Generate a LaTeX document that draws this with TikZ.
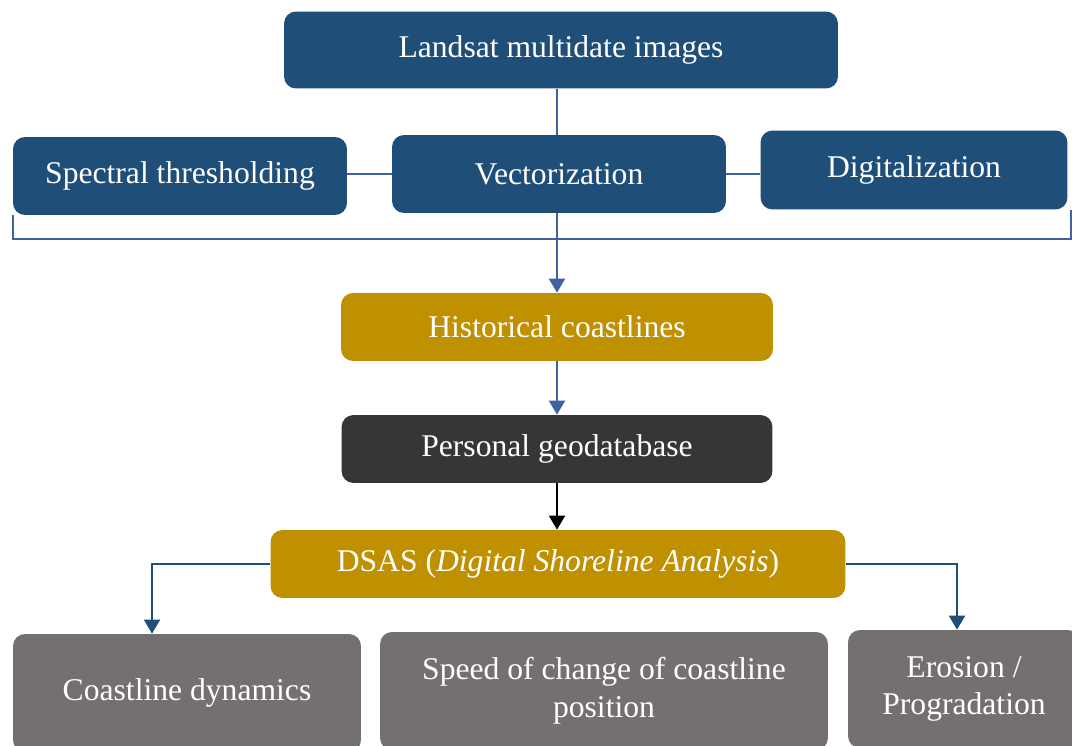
\documentclass[tikz,border=0pt]{standalone}
\usepackage{fontspec}
\setmainfont{Liberation Serif}
\usepackage{xcolor}
\usetikzlibrary{arrows.meta}
\usetikzlibrary{positioning}

\definecolor{navy}{HTML}{1F4E79}
\definecolor{gold}{HTML}{BF9000}
\definecolor{darkbox}{HTML}{363636}
\definecolor{greybox}{HTML}{757070}
\definecolor{linkblue}{HTML}{3F62A4}

\begin{document}
\begin{tikzpicture}[
    x=0.02cm, y=-0.02cm,
    every node/.style={rectangle, rounded corners=0.24cm, text=white,
      font=\fontsize{18}{21.5}\selectfont, inner sep=0pt, align=center},
    navybox/.style={fill=navy},
    goldbox/.style={fill=gold},
    darkbox/.style={fill=darkbox},
    greybox/.style={fill=greybox},
    link/.style={draw=linkblue, line width=1.1pt},
    arr/.style={-{Triangle[length=0.28cm, width=0.32cm]}},
  ]

  \useasboundingbox (0,0) rectangle (1072,746);
  \clip (0,0) rectangle (1072,746);

  \node[navybox, minimum width=11.08cm, minimum height=1.54cm] (landsat) at (561, 50)  {Landsat multidate images};
  \node[navybox, minimum width=6.68cm, minimum height=1.56cm]  (spectral) at (180, 176) {Spectral thresholding};
  \node[navybox, minimum width=6.68cm, minimum height=1.56cm]  (vector) at (559, 174)  {Vectorization};
  \node[navybox, minimum width=6.14cm, minimum height=1.58cm]  (digit) at (914, 170)   {Digitalization};

  \node[goldbox, minimum width=8.64cm, minimum height=1.36cm]  (hist) at (557, 327)    {Historical coastlines};
  \node[darkbox, minimum width=8.62cm, minimum height=1.36cm]  (geodb) at (557, 449)   {Personal geodatabase};
  \node[goldbox, minimum width=11.5cm, minimum height=1.36cm]  (dsas) at (558, 564)    {DSAS (\textit{Digital Shoreline Analysis})};

  \node[greybox, minimum width=6.96cm, minimum height=2.36cm]  (dyn) at (187, 693)     {Coastline dynamics};
  \node[greybox, minimum width=8.96cm, minimum height=2.36cm]  (speed) at (604, 691)   {Speed of change of coastline\\position};
  \node[greybox, minimum width=4.64cm, minimum height=2.36cm]  (erosion) at (964, 689) {Erosion /\\Progradation};

  % upper part
  \draw[link] (landsat.south -| hist.north) -- (hist.north |- vector.north);
  \draw[link] (spectral.east |- vector.west) -- (vector.west);
  \draw[link] (vector.east) -- (digit.west |- vector.east);
  \draw[link] (spectral.south west) -- ++(0,24) -| ([xshift=0.06cm]digit.south east);
  \draw[link, arr] (hist.north |- vector.south) -- (hist.north);

  % lower part
  \draw[link, arr] (hist.south) -- (geodb.north);
  \draw[black, line width=1.1pt, arr] (geodb.south) -- (geodb.south |- dsas.north);
  \draw[navy, line width=1.1pt, arr] (dsas.west) -| ([xshift=-0.7cm]dyn.north);
  \draw[navy, line width=1.1pt, arr] (dsas.east) -| ([xshift=-0.14cm]erosion.north);

\end{tikzpicture}
\end{document}
